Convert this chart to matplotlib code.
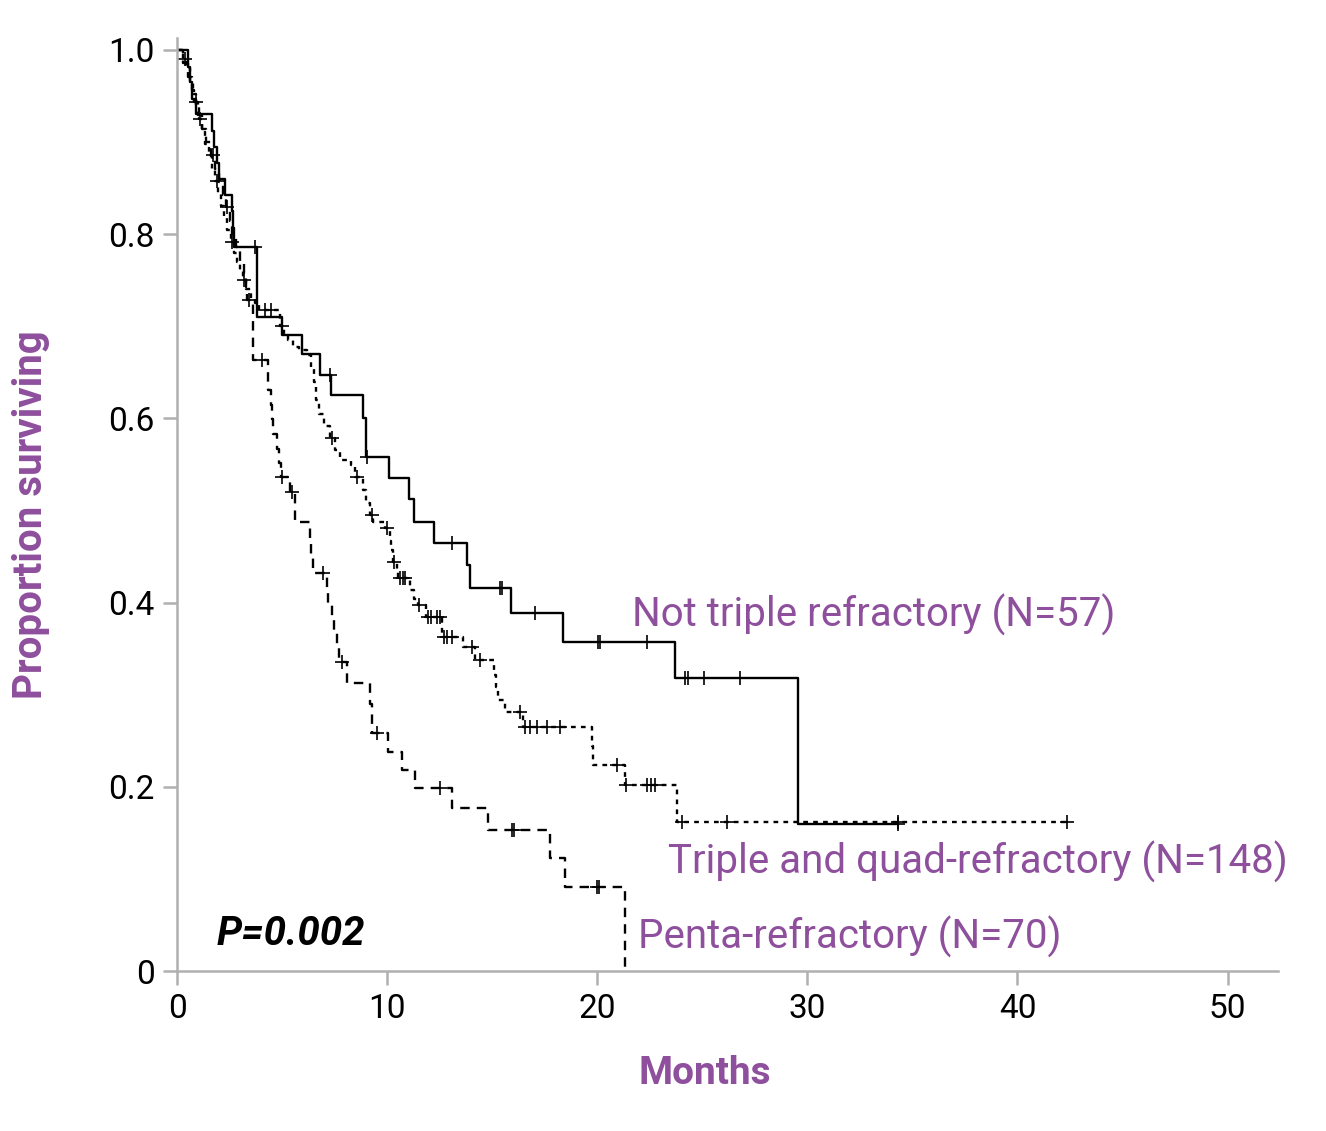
import numpy as np
import matplotlib
matplotlib.use("Agg")
import matplotlib.pyplot as plt

# Not triple refractory (N=57): event times (months) and survival after each event
nt_t = [0.52, 0.6, 0.7, 0.9, 1.67, 1.75, 1.9, 2.0, 2.3, 2.6, 2.65, 2.7, 3.8, 5.0, 5.95,
        6.8, 7.35, 8.85, 9.0, 10.09, 11.04, 11.27, 12.23, 13.8, 13.94, 15.89, 18.36,
        23.7, 29.54]
nt_s = [0.982, 0.965, 0.947, 0.93, 0.912, 0.895, 0.877, 0.86, 0.843, 0.825, 0.807,
        0.786, 0.71, 0.69, 0.67, 0.647, 0.625, 0.60, 0.558, 0.535, 0.512, 0.4875,
        0.465, 0.441, 0.416, 0.389, 0.357, 0.318, 0.16]
nt_cens = [3.7, 7.3, 9.05, 13.08, 15.37, 15.46, 17.03, 20.03, 20.12, 22.36, 24.2,
           24.3, 25.07, 26.78, 34.3]
nt_end = 34.3

# Triple and quad-refractory (N=148)
tq_t = [0.3, 0.45, 0.6, 0.75, 0.9, 1.05, 1.2, 1.35, 1.5, 1.65, 1.8, 1.95, 2.1, 2.25,
        2.4, 2.55, 2.7, 2.85, 3.0, 3.15, 3.3, 3.5, 3.7, 3.9, 4.9, 5.1, 5.3, 5.5, 5.8,
        6.2, 6.4, 6.5, 6.6, 6.75, 7.0, 7.28, 7.5, 7.75, 8.3, 8.47, 8.85, 9.0, 9.18,
        9.32, 9.9, 10.13, 10.2, 10.28, 10.45, 10.5, 11.08, 11.3, 11.47, 11.85, 12.6,
        13.6, 14.2, 15.1, 15.2, 15.27, 15.6, 16.46, 19.74, 19.8, 21.3, 23.8]
tq_s = [0.99, 0.98, 0.966, 0.952, 0.939, 0.925, 0.912, 0.898, 0.885, 0.871, 0.858,
        0.845, 0.831, 0.818, 0.804, 0.791, 0.78, 0.77, 0.76, 0.75, 0.74, 0.73, 0.725,
        0.718, 0.70, 0.692, 0.685, 0.678, 0.674, 0.669, 0.655, 0.64, 0.62, 0.605,
        0.592, 0.579, 0.566, 0.555, 0.549, 0.536, 0.522, 0.508, 0.495, 0.488, 0.481,
        0.467, 0.457, 0.444, 0.434, 0.427, 0.414, 0.404, 0.397, 0.384, 0.363, 0.352,
        0.338, 0.321, 0.308, 0.294, 0.281, 0.265, 0.244, 0.224, 0.202, 0.162]
tq_cens = [0.4, 1.1, 1.9, 2.6, 3.2, 4.2, 4.45, 5.0, 7.37, 8.56, 9.28, 9.99, 10.35,
           10.61, 10.75, 10.85, 11.5, 11.95, 12.1, 12.37, 12.51, 12.7, 12.85, 13.08,
           14.03, 14.41, 16.32, 16.56, 16.79, 17.13, 17.6, 18.22, 20.93, 21.35, 22.36,
           22.55, 22.74, 24.02, 26.17, 34.3, 42.34]
tq_end = 42.34

# Penta-refractory (N=70)
pr_t = [0.3, 0.5, 0.7, 0.8, 1.0, 1.2, 1.4, 1.6, 1.8, 2.0, 2.2, 2.35, 2.5, 2.6, 2.8,
        3.0, 3.2, 3.3, 3.35, 3.62, 4.35, 4.45, 4.5, 4.55, 4.75, 4.85, 4.95, 5.4, 5.6,
        6.33, 6.4, 6.45, 7.15, 7.2, 7.4, 7.45, 7.6, 7.7, 8.1, 9.2, 9.28, 10.04, 10.7,
        11.32, 13.08, 14.8, 17.75, 18.46, 21.3]
pr_s = [0.986, 0.971, 0.957, 0.943, 0.929, 0.914, 0.900, 0.886, 0.871, 0.857, 0.843,
        0.829, 0.814, 0.800, 0.786, 0.771, 0.757, 0.743, 0.728, 0.663, 0.631, 0.615,
        0.599, 0.583, 0.567, 0.552, 0.536, 0.52, 0.487, 0.47, 0.45, 0.432, 0.415,
        0.40, 0.385, 0.37, 0.352, 0.335, 0.313, 0.29, 0.258, 0.238, 0.218, 0.199,
        0.177, 0.153, 0.123, 0.091, 0.0]
pr_cens = [0.9, 1.7, 2.4, 3.45, 4.04, 5.0, 5.47, 6.95, 7.85, 9.5, 12.5, 15.95, 16.05,
           19.98, 20.07]
pr_end = 21.3

purple = "#8e4f9c"
grey = "#b0b0b0"
font = "Roboto"


def km(ax, t, s, cens, end, ls, lw):
    x = [0.0] + list(t) + [end]
    y = [1.0] + list(s) + [s[-1]]
    ax.step(x, y, where="post", color="black", linestyle=ls, linewidth=lw)
    # survival at censor times from the step function
    idx = np.searchsorted(np.array(t), np.array(cens), side="right")
    ys = np.array([1.0] + list(s))[idx]
    ax.plot(cens, ys, linestyle="none", marker="+", color="black",
            markersize=10, markeredgewidth=1.2)


fig = plt.figure(figsize=(13.26, 11.31), dpi=100)
ax = fig.add_axes([177 / 1326, 1 - 971 / 1131, (1278 - 177) / 1326, (971 - 38) / 1131])

km(ax, pr_t, pr_s, pr_cens, pr_end, (0, (4, 3)), 1.7)
km(ax, tq_t, tq_s, tq_cens, tq_end, (0, (2, 2.2)), 1.7)
km(ax, nt_t, nt_s, nt_cens, nt_end, "-", 1.7)

ax.set_xlim(0, 52.4)
ax.set_ylim(0, 1.013)
ax.set_xticks([0, 10, 20, 30, 40, 50])
ax.set_yticks([0, 0.2, 0.4, 0.6, 0.8, 1.0])
ax.set_yticklabels(["0", "0.2", "0.4", "0.6", "0.8", "1.0"])
for sp in ["top", "right"]:
    ax.spines[sp].set_visible(False)
for sp in ["left", "bottom"]:
    ax.spines[sp].set_color(grey)
    ax.spines[sp].set_linewidth(1.8)
ax.tick_params(axis="both", length=10, width=1.8, color=grey, labelsize=24,
               pad=6)
for lab in ax.get_xticklabels() + ax.get_yticklabels():
    lab.set_fontfamily(font)

fig.text(31 / 1326, 1 - 515 / 1131, "Proportion surviving", fontsize=29,
         fontweight="bold", color=purple, family=font, rotation=90,
         ha="center", va="center")
fig.text(705 / 1326, 1 - 1073 / 1131, "Months", fontsize=28, fontweight="bold",
         color=purple, family=font, ha="center", va="center")

ax.text(21.65, 0.3865, "Not triple refractory (N=57)", fontsize=29, color=purple,
        family=font, va="center", ha="left")
ax.text(23.36, 0.118, "Triple and quad-refractory (N=148)", fontsize=29,
        color=purple, family=font, va="center", ha="left")
ax.text(21.93, 0.037, "Penta-refractory (N=70)", fontsize=29, color=purple,
        family=font, va="center", ha="left")
ax.text(1.9, 0.04, "P=0.002", fontsize=29, fontweight="bold", style="italic",
        family=font, va="center", ha="left")

fig.savefig("out.png", dpi=100)
